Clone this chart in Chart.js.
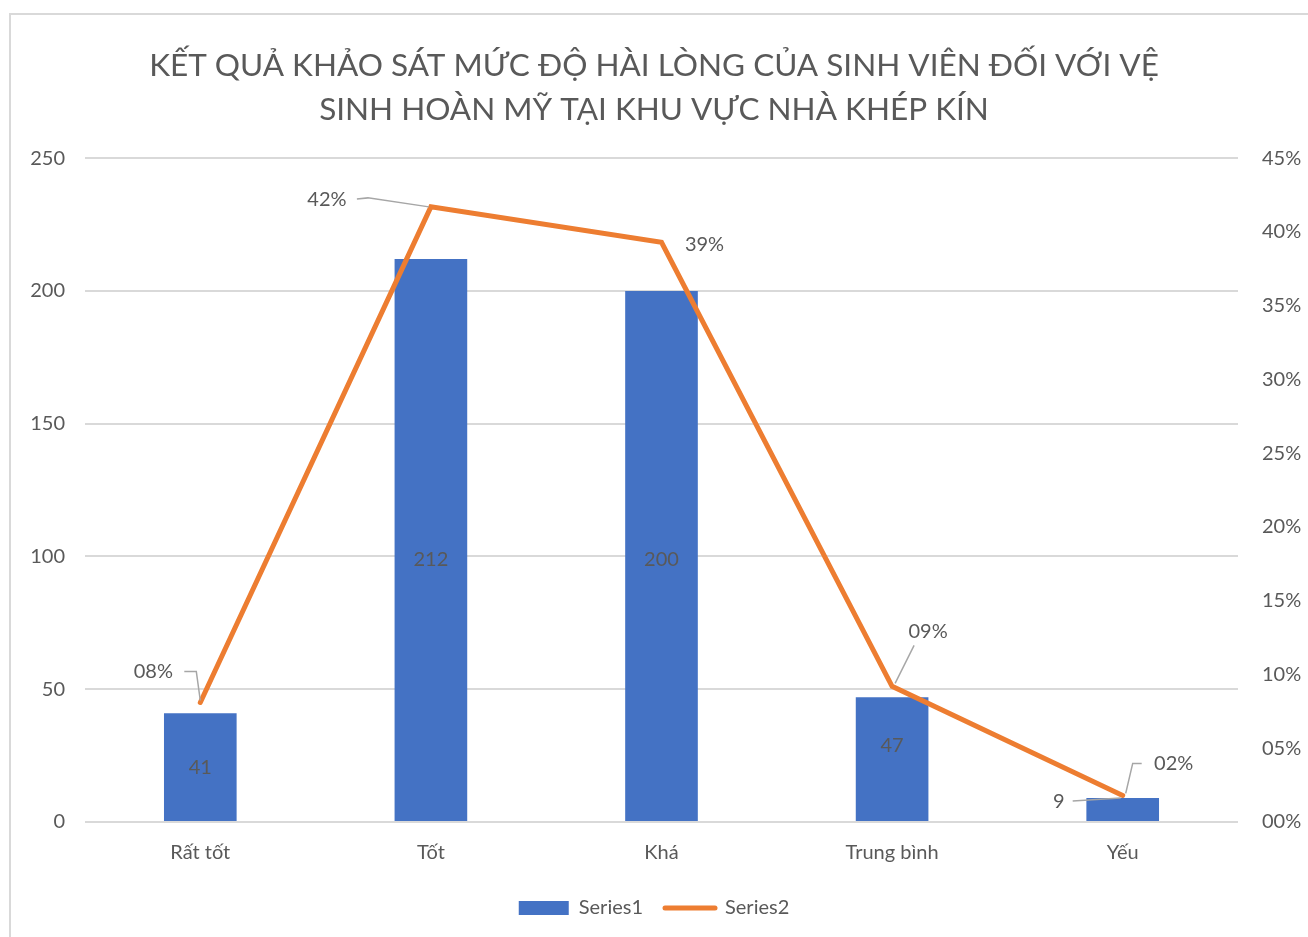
<!DOCTYPE html>
<html>
<head>
<meta charset="utf-8">
<script src="https://cdn.jsdelivr.net/npm/chart.js@4"></script>
<style>
  html, body { margin: 0; padding: 0; background: #fff; overflow: hidden; }
  #frame { position: absolute; left: 9px; top: 13px; width: 1320px; height: 940px; border: 2px solid #d9d9d9; box-sizing: border-box; }
  #wrap { position: absolute; left: 0; top: 0; width: 1308px; height: 937px; }
</style>
</head>
<body>
<div id="frame"></div>
<div id="wrap"><canvas id="chart"></canvas></div>
<script>
const categories = ['Rất tốt', 'Tốt', 'Khá', 'Trung bình', 'Yếu'];
const series1 = [41, 212, 200, 47, 9];
const series2 = [0.081, 0.417, 0.393, 0.092, 0.018];
const leftTicks = [0, 50, 100, 150, 200, 250];
const rightTicks = [0, 0.05, 0.10, 0.15, 0.20, 0.25, 0.30, 0.35, 0.40, 0.45];

const FONT = 'Lato, "Open Sans", sans-serif';
const GREY = '#595959';

// label placement offsets (dx, dy from point) and leader line paths
const barLabelPos = [
  { dx: 0, dy: 0 }, { dx: 0, dy: 19 }, { dx: 0, dy: 4 }, { dx: 0, dy: -14 },
  { dx: -64, dy: 3, mode: 'top', leader: [[-50, 3], [-2, 0]] }
];
const lineLabelPos = [
  { dx: -47, dy: -31, leader: [[-16, -31], [-4, -31], [0, -2]] },
  { dx: -104, dy: -7, leader: [[-74, -8], [-63, -9], [-2, 0]] },
  { dx: 43, dy: 2 },
  { dx: 36, dy: -55, leader: [[22, -41], [3, -3]] },
  { dx: 51, dy: -32, leader: [[19, -32], [10, -32], [3, -2]] }
];

const fmtPct = v => String(Math.round(v * 100)).padStart(2, '0') + '%';

const labelPlugin = {
  id: 'labels',
  afterDatasetsDraw(chart) {
    const ctx = chart.ctx;
    ctx.save();
    ctx.font = '20px ' + FONT;
    ctx.fillStyle = GREY;
    ctx.textAlign = 'center';
    ctx.textBaseline = 'middle';
    ctx.strokeStyle = '#a6a6a6';
    ctx.lineWidth = 1.5;
    const barMeta = chart.getDatasetMeta(0);
    barMeta.data.forEach((el, i) => {
      const p = barLabelPos[i];
      const ax = el.x;
      const ay = p.mode === 'top' ? el.y : (el.y + el.base) / 2;
      if (p.leader) {
        ctx.beginPath();
        ctx.moveTo(ax + p.leader[0][0], ay + p.leader[0][1]);
        for (let k = 1; k < p.leader.length; k++) ctx.lineTo(ax + p.leader[k][0], ay + p.leader[k][1]);
        ctx.stroke();
      }
      ctx.fillText(String(series1[i]), ax + p.dx, ay + p.dy);
    });
    const lineMeta = chart.getDatasetMeta(1);
    lineMeta.data.forEach((el, i) => {
      const p = lineLabelPos[i];
      if (p.leader) {
        ctx.beginPath();
        ctx.moveTo(el.x + p.leader[0][0], el.y + p.leader[0][1]);
        for (let k = 1; k < p.leader.length; k++) ctx.lineTo(el.x + p.leader[k][0], el.y + p.leader[k][1]);
        ctx.stroke();
      }
      ctx.fillText(fmtPct(series2[i]), el.x + p.dx, el.y + p.dy);
    });
    ctx.restore();
  }
};

new Chart(document.getElementById('chart'), {
  type: 'bar',
  data: {
    labels: categories,
    datasets: [
      { type: 'bar', label: 'Series1', data: series1, backgroundColor: '#4472C4', yAxisID: 'y', order: 1,
        barPercentage: 0.63, categoryPercentage: 0.5 },
      { type: 'line', label: 'Series2', data: series2, borderColor: '#ED7D31', backgroundColor: '#ED7D31',
        borderWidth: 5, pointRadius: 0, tension: 0, yAxisID: 'y1', order: 0, borderCapStyle: 'round', borderJoinStyle: 'miter' }
    ]
  },
  options: {
    responsive: true,
    maintainAspectRatio: false,
    animation: false,
    layout: { padding: { top: 0, bottom: 9, left: 0, right: 0 } },
    plugins: {
      tooltip: { enabled: false },
      title: {
        display: true,
        text: ['KẾT QUẢ KHẢO SÁT MỨC ĐỘ HÀI LÒNG CỦA SINH VIÊN ĐỐI VỚI VỆ', 'SINH HOÀN MỸ TẠI KHU VỰC NHÀ KHÉP KÍN'],
        color: GREY,
        font: { family: FONT, size: 31.5, weight: 'normal', lineHeight: 1.4 },
        padding: { top: 44, bottom: 26 }
      },
      legend: {
        position: 'bottom',
        labels: {
          color: GREY,
          font: { family: FONT, size: 20 },
          usePointStyle: true,
          pointStyleWidth: 50,
          boxHeight: 14,
          padding: 22,
          sort: (a, b) => a.datasetIndex - b.datasetIndex,
          generateLabels(chart) {
            return chart.data.datasets.map((ds, i) => ({
              text: ds.label,
              datasetIndex: i,
              fillStyle: i === 0 ? '#4472C4' : '#ED7D31',
              strokeStyle: i === 0 ? '#4472C4' : '#ED7D31',
              lineWidth: i === 0 ? 0 : 5,
              lineCap: 'round',
              pointStyle: i === 0 ? 'rect' : 'line',
              fontColor: GREY,
              hidden: false
            }));
          }
        }
      }
    },
    scales: {
      x: {
        offset: true,
        grid: { display: false },
        border: { display: false },
        ticks: { color: GREY, font: { family: FONT, size: 20 }, padding: 11, maxRotation: 0 }
      },
      y: {
        position: 'left',
        min: 0, max: 250,
        afterBuildTicks: s => { s.ticks = leftTicks.map(v => ({ value: v })); },
        afterFit: s => { s.width = 85; },
        grid: { color: '#d9d9d9', lineWidth: 2, drawTicks: false },
        border: { display: false },
        ticks: { color: GREY, font: { family: FONT, size: 20 }, padding: 20 }
      },
      y1: {
        position: 'right',
        min: 0, max: 0.45,
        afterBuildTicks: s => { s.ticks = rightTicks.map(v => ({ value: v })); },
        afterFit: s => { s.width = 70; },
        grid: { display: false, drawTicks: false },
        border: { display: false },
        ticks: { color: GREY, font: { family: FONT, size: 20 }, padding: 24, callback: v => fmtPct(v) }
      }
    }
  },
  plugins: [labelPlugin]
});
</script>
</body>
</html>
